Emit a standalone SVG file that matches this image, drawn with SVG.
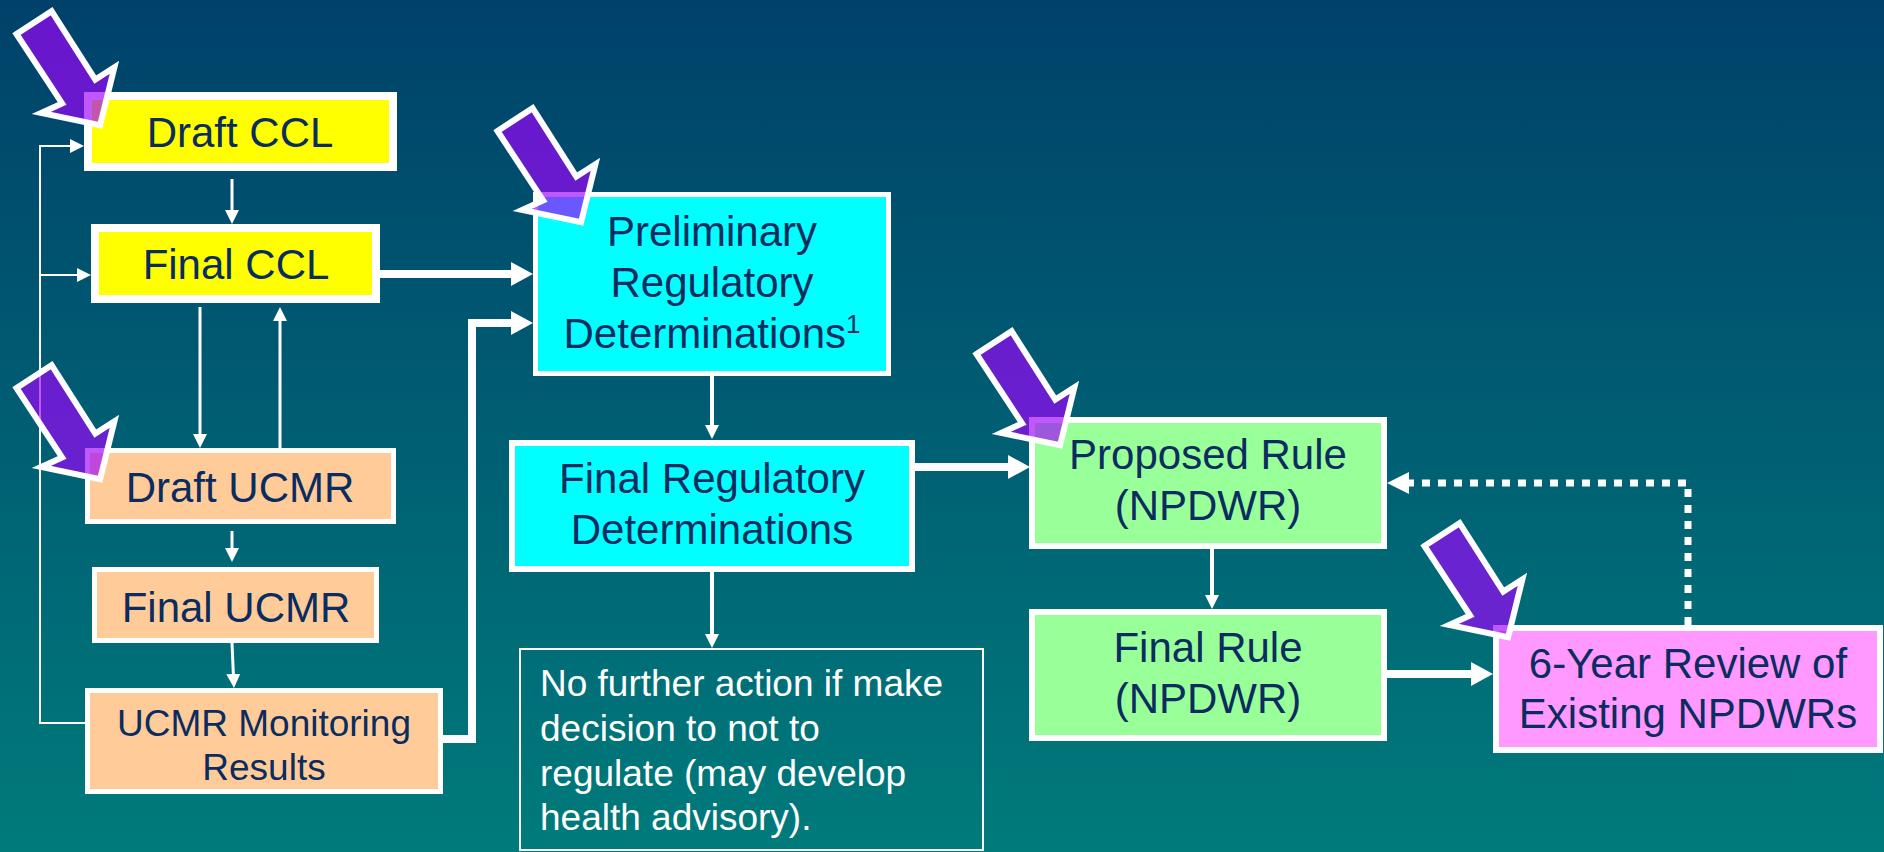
<svg xmlns="http://www.w3.org/2000/svg" width="1884" height="852" viewBox="0 0 1884 852">
<defs>
<linearGradient id="bg" x1="0" y1="0" x2="0" y2="1">
<stop offset="0" stop-color="#00416a"/>
<stop offset="1" stop-color="#007b7b"/>
</linearGradient>
<marker id="mThin" markerUnits="userSpaceOnUse" markerWidth="14" markerHeight="14" refX="1" refY="7" orient="auto">
<path d="M0,0 L14,7 L0,14 z" fill="#ffffff"/>
</marker>
<marker id="mThick" markerUnits="userSpaceOnUse" markerWidth="22" markerHeight="24" refX="1" refY="12" orient="auto">
<path d="M0,0 L22,12 L0,24 z" fill="#ffffff"/>
</marker>
<marker id="mDot" markerUnits="userSpaceOnUse" markerWidth="22" markerHeight="22" refX="1" refY="11" orient="auto">
<path d="M0,0 L22,11 L0,22 z" fill="#ffffff"/>
</marker>
<path id="callout" d="M-85.5,-94 L-50.4,-116.8 L-6.7,-48.4 L12.4,-60.7 L-1.9,-2.8 L-60.8,-15.1 L-39.9,-24.6 Z"/>
</defs>
<style>
.box{stroke:#ffffff;}
.t{font-family:"Liberation Sans",Arial,Helvetica,sans-serif;font-size:42px;fill:#0b2c5f;text-anchor:middle;}
.ts{font-size:37px;}
.w{font-family:"Liberation Sans",Arial,Helvetica,sans-serif;font-size:37px;fill:#ffffff;}
.c{fill:none;stroke:#ffffff;}
.thin{stroke-width:3;marker-end:url(#mThin);}
.med{stroke-width:4;marker-end:url(#mThin);}
.thick{stroke-width:8;marker-end:url(#mThick);}
.co{fill:#9f00ff;fill-opacity:0.66;stroke:#ffffff;stroke-width:6;stroke-linejoin:miter;}
</style>
<rect x="0" y="0" width="1884" height="852" fill="url(#bg)"/>

<g id="connectors">
<polyline class="c" stroke-width="2" points="86,723 40,723 40,146 71,146" marker-end="url(#mThin)"/>
<line class="c" stroke-width="2" x1="40" y1="275" x2="78" y2="275" marker-end="url(#mThin)"/>
<line class="c thin" x1="232" y1="179" x2="232" y2="211"/>
<line class="c thin" x1="200" y1="307" x2="200" y2="435"/>
<line class="c thin" x1="280" y1="448" x2="280" y2="320"/>
<line class="c thin" x1="232" y1="531" x2="232" y2="549"/>
<line class="c thin" x1="232" y1="643" x2="233.4" y2="675"/>
<line class="c thick" x1="380" y1="274" x2="512" y2="274"/>
<polyline class="c thick" points="443,739 472,739 472,323 512,323"/>
<line class="c med" x1="712" y1="376" x2="712" y2="426"/>
<line class="c med" x1="712" y1="572" x2="712" y2="635"/>
<line class="c thick" x1="915" y1="467" x2="1009" y2="467"/>
<line class="c med" x1="1212" y1="549" x2="1212" y2="596"/>
<line class="c thick" x1="1387" y1="674" x2="1472" y2="674"/>
<polyline class="c" stroke-width="7" stroke-dasharray="8 8" points="1688,625 1688,483 1408,483" marker-end="url(#mDot)"/>
</g>

<g id="draft-ccl">
<rect class="box" x="88" y="96" width="305" height="71" fill="#ffff00" stroke-width="8"/>
<text class="t" x="240" y="147">Draft CCL</text>
</g>
<g id="final-ccl">
<rect class="box" x="95" y="228" width="281" height="71" fill="#ffff00" stroke-width="8"/>
<text class="t" x="236" y="279">Final CCL</text>
</g>
<g id="draft-ucmr">
<rect class="box" x="87.5" y="450.5" width="306" height="71" fill="#ffcc99" stroke-width="5"/>
<text class="t" x="240" y="502">Draft UCMR</text>
</g>
<g id="final-ucmr">
<rect class="box" x="94.5" y="569.5" width="282" height="71" fill="#ffcc99" stroke-width="5"/>
<text class="t" x="236" y="622">Final UCMR</text>
</g>
<g id="ucmr-monitoring">
<rect class="box" x="87.5" y="690.5" width="353" height="101" fill="#ffcc99" stroke-width="5"/>
<text class="t ts" x="264" y="736">UCMR Monitoring</text>
<text class="t ts" x="264" y="780">Results</text>
</g>
<g id="preliminary">
<rect class="box" x="535.5" y="194.5" width="353" height="179" fill="#00ffff" stroke-width="5"/>
<text class="t" x="712" y="246">Preliminary</text>
<text class="t" x="712" y="297">Regulatory</text>
<text class="t" x="712" y="348">Determinations<tspan font-size="26" dy="-15">1</tspan></text>
</g>
<g id="final-reg">
<rect class="box" x="512" y="443" width="400" height="126" fill="#00ffff" stroke-width="6"/>
<text class="t" x="712" y="493">Final Regulatory</text>
<text class="t" x="712" y="544">Determinations</text>
</g>
<g id="no-further">
<rect class="box" x="520" y="649" width="463" height="201" fill="none" stroke-width="2"/>
<text class="w" x="540" y="696">No further action if make</text>
<text class="w" x="540" y="741">decision to not to</text>
<text class="w" x="540" y="786">regulate (may develop</text>
<text class="w" x="540" y="830">health advisory).</text>
</g>
<g id="proposed-rule">
<rect class="box" x="1032" y="420" width="352" height="126" fill="#99ff99" stroke-width="6"/>
<text class="t" x="1208" y="469">Proposed Rule</text>
<text class="t" x="1208" y="520">(NPDWR)</text>
</g>
<g id="final-rule">
<rect class="box" x="1032" y="612" width="352" height="126" fill="#99ff99" stroke-width="6"/>
<text class="t" x="1208" y="662">Final Rule</text>
<text class="t" x="1208" y="713">(NPDWR)</text>
</g>
<g id="six-year-review">
<rect class="box" x="1496" y="628" width="384" height="122" fill="#ff99ff" stroke-width="6"/>
<text class="t" x="1688" y="678">6-Year Review of</text>
<text class="t" x="1688" y="728">Existing NPDWRs</text>
</g>

<g id="callouts">
<use href="#callout" class="co" transform="translate(102,128)"/>
<use href="#callout" class="co" transform="translate(102,482)"/>
<use href="#callout" class="co" transform="translate(583,225)"/>
<use href="#callout" class="co" transform="translate(1062,448)"/>
<use href="#callout" class="co" transform="translate(1510,640)"/>
</g>
</svg>
